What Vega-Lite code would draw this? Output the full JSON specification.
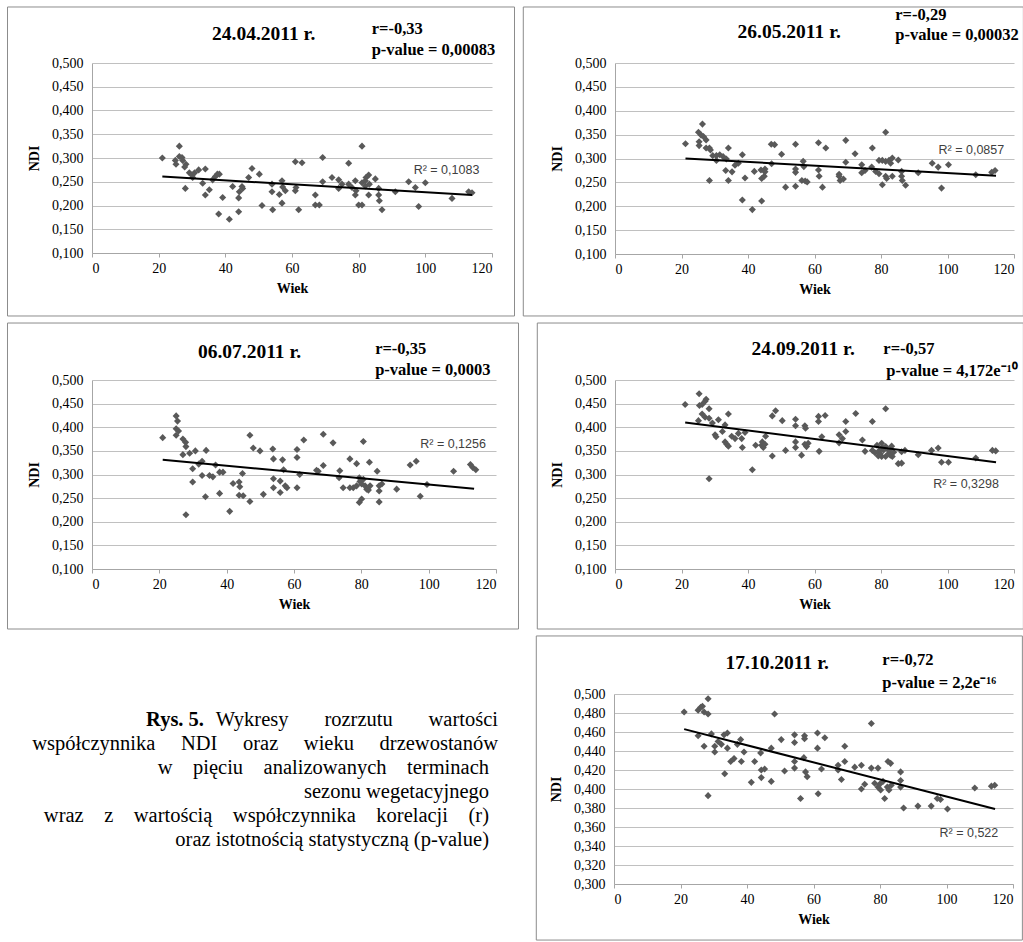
{
  "$schema": "https://vega.github.io/schema/vega-lite/v6.json",
  "padding": {"left": 6, "top": 6, "right": 0, "bottom": 0},
  "background": "white",
  "config": {
    "view": {"stroke": null},
    "axis": {"labelFont": "Liberation Serif", "labelFontSize": 14, "labelColor": "#000000", "titleFont": "Liberation Serif", "titleFontSize": 14, "titleFontWeight": "bold", "titleColor": "#000000", "domainColor": "#a6a6a6", "tickColor": "#a6a6a6", "gridColor": "#c0c0c0", "gridWidth": 1.2, "labelOverlap": false},
    "axisX": {"labelFont": "Liberation Serif", "titleFont": "Liberation Serif", "grid": false, "ticks": true, "tickSize": 4, "labelPadding": 4, "titlePadding": 6},
    "axisY": {"labelFont": "Liberation Serif", "titleFont": "Liberation Serif", "grid": true, "ticks": false, "labelPadding": 9, "titlePadding": 10, "tickCount": 20}
  },
  "datasets": {
    "d1": [
      {"wiek":21.1,"ndi":0.300},{"wiek":25,"ndi":0.295},{"wiek":25.2,"ndi":0.287},{"wiek":26.2,"ndi":0.325},{"wiek":26.2,"ndi":0.303},{"wiek":27,"ndi":0.301},{"wiek":27.2,"ndi":0.295},{"wiek":28.2,"ndi":0.287},{"wiek":27.8,"ndi":0.281},{"wiek":28,"ndi":0.236},{"wiek":29.2,"ndi":0.269},{"wiek":30,"ndi":0.264},{"wiek":30.2,"ndi":0.259},{"wiek":30.8,"ndi":0.269},{"wiek":32,"ndi":0.275},{"wiek":33.2,"ndi":0.247},{"wiek":34,"ndi":0.277},{"wiek":34,"ndi":0.222},{"wiek":35.2,"ndi":0.233},{"wiek":36.2,"ndi":0.254},{"wiek":37,"ndi":0.261},{"wiek":37.6,"ndi":0.266},{"wiek":38.2,"ndi":0.266},{"wiek":38,"ndi":0.182},{"wiek":39.2,"ndi":0.217},{"wiek":41.2,"ndi":0.171},{"wiek":42.2,"ndi":0.240},{"wiek":44,"ndi":0.216},{"wiek":44,"ndi":0.187},{"wiek":44.2,"ndi":0.229},{"wiek":45,"ndi":0.240},{"wiek":45.2,"ndi":0.236},{"wiek":47,"ndi":0.259},{"wiek":48,"ndi":0.278},{"wiek":50.2,"ndi":0.266},{"wiek":51,"ndi":0.200},{"wiek":54,"ndi":0.245},{"wiek":54,"ndi":0.229},{"wiek":54.2,"ndi":0.191},{"wiek":56.2,"ndi":0.223},{"wiek":57,"ndi":0.252},{"wiek":57,"ndi":0.205},{"wiek":57.2,"ndi":0.239},{"wiek":58,"ndi":0.231},{"wiek":61,"ndi":0.292},{"wiek":61,"ndi":0.231},{"wiek":61.2,"ndi":0.238},{"wiek":62,"ndi":0.191},{"wiek":63,"ndi":0.290},{"wiek":67,"ndi":0.222},{"wiek":67,"ndi":0.201},{"wiek":68.2,"ndi":0.201},{"wiek":69.2,"ndi":0.301},{"wiek":69.2,"ndi":0.250},{"wiek":72,"ndi":0.259},{"wiek":74,"ndi":0.254},{"wiek":74,"ndi":0.236},{"wiek":75,"ndi":0.245},{"wiek":77,"ndi":0.289},{"wiek":77,"ndi":0.245},{"wiek":78,"ndi":0.238},{"wiek":79,"ndi":0.252},{"wiek":79,"ndi":0.222},{"wiek":79.2,"ndi":0.231},{"wiek":80,"ndi":0.201},{"wiek":81,"ndi":0.325},{"wiek":81,"ndi":0.201},{"wiek":81,"ndi":0.248},{"wiek":82,"ndi":0.252},{"wiek":82,"ndi":0.241},{"wiek":82.2,"ndi":0.259},{"wiek":83,"ndi":0.264},{"wiek":83,"ndi":0.222},{"wiek":83.2,"ndi":0.245},{"wiek":85,"ndi":0.256},{"wiek":86,"ndi":0.236},{"wiek":86,"ndi":0.222},{"wiek":86.2,"ndi":0.210},{"wiek":87,"ndi":0.191},{"wiek":91,"ndi":0.229},{"wiek":95,"ndi":0.250},{"wiek":97,"ndi":0.238},{"wiek":98,"ndi":0.198},{"wiek":100,"ndi":0.248},{"wiek":108,"ndi":0.215},{"wiek":113,"ndi":0.229},{"wiek":114,"ndi":0.227}
    ],
    "d2": [
      {"wiek":21.2,"ndi":0.331},{"wiek":25.1,"ndi":0.355},{"wiek":25.3,"ndi":0.335},{"wiek":25.3,"ndi":0.327},{"wiek":26.3,"ndi":0.372},{"wiek":25.9,"ndi":0.349},{"wiek":26.6,"ndi":0.346},{"wiek":27.4,"ndi":0.339},{"wiek":27.4,"ndi":0.322},{"wiek":28.4,"ndi":0.322},{"wiek":28.4,"ndi":0.254},{"wiek":28.7,"ndi":0.318},{"wiek":29.4,"ndi":0.306},{"wiek":30.5,"ndi":0.306},{"wiek":30.5,"ndi":0.296},{"wiek":31.5,"ndi":0.308},{"wiek":32.5,"ndi":0.304},{"wiek":33.5,"ndi":0.299},{"wiek":33.3,"ndi":0.275},{"wiek":34.1,"ndi":0.322},{"wiek":34.1,"ndi":0.254},{"wiek":35.2,"ndi":0.272},{"wiek":36.1,"ndi":0.286},{"wiek":37.1,"ndi":0.290},{"wiek":38.3,"ndi":0.308},{"wiek":38.3,"ndi":0.213},{"wiek":39.1,"ndi":0.259},{"wiek":41.3,"ndi":0.193},{"wiek":41.9,"ndi":0.273},{"wiek":43.9,"ndi":0.276},{"wiek":44.1,"ndi":0.258},{"wiek":44.1,"ndi":0.211},{"wiek":44.9,"ndi":0.263},{"wiek":45.1,"ndi":0.278},{"wiek":45.1,"ndi":0.272},{"wiek":47,"ndi":0.330},{"wiek":48,"ndi":0.329},{"wiek":47.1,"ndi":0.289},{"wiek":50.1,"ndi":0.309},{"wiek":51.3,"ndi":0.240},{"wiek":54.3,"ndi":0.330},{"wiek":54.3,"ndi":0.278},{"wiek":54.3,"ndi":0.271},{"wiek":54.3,"ndi":0.242},{"wiek":56.6,"ndi":0.294},{"wiek":56.8,"ndi":0.283},{"wiek":56.2,"ndi":0.254},{"wiek":57.2,"ndi":0.253},{"wiek":57.8,"ndi":0.251},{"wiek":61.2,"ndi":0.333},{"wiek":61.2,"ndi":0.276},{"wiek":61.4,"ndi":0.263},{"wiek":62.4,"ndi":0.240},{"wiek":63.4,"ndi":0.322},{"wiek":67.4,"ndi":0.267},{"wiek":67.4,"ndi":0.263},{"wiek":67.7,"ndi":0.254},{"wiek":68.7,"ndi":0.257},{"wiek":69.4,"ndi":0.338},{"wiek":69.4,"ndi":0.292},{"wiek":72.2,"ndi":0.310},{"wiek":74.2,"ndi":0.287},{"wiek":74.2,"ndi":0.270},{"wiek":75.2,"ndi":0.275},{"wiek":77.4,"ndi":0.322},{"wiek":77.2,"ndi":0.282},{"wiek":78.4,"ndi":0.273},{"wiek":79.4,"ndi":0.296},{"wiek":79.4,"ndi":0.268},{"wiek":80.4,"ndi":0.296},{"wiek":80.4,"ndi":0.245},{"wiek":81.4,"ndi":0.355},{"wiek":81.4,"ndi":0.263},{"wiek":81.4,"ndi":0.294},{"wiek":81.7,"ndi":0.258},{"wiek":82.4,"ndi":0.296},{"wiek":82.9,"ndi":0.290},{"wiek":83.4,"ndi":0.301},{"wiek":83.4,"ndi":0.263},{"wiek":85.2,"ndi":0.297},{"wiek":86.2,"ndi":0.273},{"wiek":86.2,"ndi":0.263},{"wiek":86.4,"ndi":0.254},{"wiek":87.4,"ndi":0.244},{"wiek":91.2,"ndi":0.270},{"wiek":95.4,"ndi":0.290},{"wiek":97.2,"ndi":0.282},{"wiek":98.2,"ndi":0.238},{"wiek":100.3,"ndi":0.287},{"wiek":108.5,"ndi":0.266},{"wiek":113.3,"ndi":0.271},{"wiek":114.3,"ndi":0.275}
    ],
    "d3": [
      {"wiek":21.0,"ndi":0.378},{"wiek":25.0,"ndi":0.424},{"wiek":25.4,"ndi":0.413},{"wiek":25.0,"ndi":0.397},{"wiek":25.7,"ndi":0.392},{"wiek":25.0,"ndi":0.383},{"wiek":27.0,"ndi":0.375},{"wiek":27.8,"ndi":0.368},{"wiek":27.9,"ndi":0.359},{"wiek":27.0,"ndi":0.342},{"wiek":29.0,"ndi":0.345},{"wiek":27.9,"ndi":0.215},{"wiek":29.9,"ndi":0.312},{"wiek":30.7,"ndi":0.350},{"wiek":29.9,"ndi":0.284},{"wiek":31.7,"ndi":0.322},{"wiek":32.7,"ndi":0.328},{"wiek":33.9,"ndi":0.351},{"wiek":32.7,"ndi":0.298},{"wiek":33.7,"ndi":0.253},{"wiek":34.9,"ndi":0.298},{"wiek":35.9,"ndi":0.295},{"wiek":36.7,"ndi":0.320},{"wiek":37.9,"ndi":0.260},{"wiek":37.9,"ndi":0.305},{"wiek":38.9,"ndi":0.305},{"wiek":40.9,"ndi":0.222},{"wiek":41.9,"ndi":0.281},{"wiek":43.7,"ndi":0.284},{"wiek":43.9,"ndi":0.274},{"wiek":43.7,"ndi":0.256},{"wiek":44.7,"ndi":0.302},{"wiek":44.9,"ndi":0.255},{"wiek":46.9,"ndi":0.383},{"wiek":46.9,"ndi":0.243},{"wiek":47.9,"ndi":0.356},{"wiek":49.9,"ndi":0.350},{"wiek":50.9,"ndi":0.258},{"wiek":53.7,"ndi":0.354},{"wiek":53.9,"ndi":0.333},{"wiek":53.9,"ndi":0.291},{"wiek":53.9,"ndi":0.272},{"wiek":55.9,"ndi":0.262},{"wiek":55.9,"ndi":0.286},{"wiek":56.6,"ndi":0.331},{"wiek":56.9,"ndi":0.310},{"wiek":57.4,"ndi":0.276},{"wiek":57.9,"ndi":0.272},{"wiek":60.9,"ndi":0.272},{"wiek":60.9,"ndi":0.336},{"wiek":60.9,"ndi":0.353},{"wiek":61.7,"ndi":0.300},{"wiek":62.9,"ndi":0.373},{"wiek":68.7,"ndi":0.385},{"wiek":71.6,"ndi":0.367},{"wiek":80.6,"ndi":0.370},{"wiek":66.7,"ndi":0.309},{"wiek":67.2,"ndi":0.307},{"wiek":68.7,"ndi":0.319},{"wiek":73.6,"ndi":0.308},{"wiek":73.4,"ndi":0.293},{"wiek":74.6,"ndi":0.272},{"wiek":76.6,"ndi":0.333},{"wiek":76.6,"ndi":0.272},{"wiek":77.6,"ndi":0.272},{"wiek":78.6,"ndi":0.323},{"wiek":78.6,"ndi":0.276},{"wiek":79.4,"ndi":0.293},{"wiek":79.6,"ndi":0.285},{"wiek":80.1,"ndi":0.280},{"wiek":80.6,"ndi":0.290},{"wiek":81.1,"ndi":0.276},{"wiek":81.6,"ndi":0.269},{"wiek":82.1,"ndi":0.267},{"wiek":79.4,"ndi":0.241},{"wiek":80.1,"ndi":0.248},{"wiek":82.4,"ndi":0.326},{"wiek":82.6,"ndi":0.276},{"wiek":84.7,"ndi":0.307},{"wiek":85.3,"ndi":0.265},{"wiek":85.3,"ndi":0.242},{"wiek":85.3,"ndi":0.276},{"wiek":86.1,"ndi":0.280},{"wiek":90.5,"ndi":0.269},{"wiek":94.5,"ndi":0.320},{"wiek":96.3,"ndi":0.328},{"wiek":97.5,"ndi":0.254},{"wiek":99.5,"ndi":0.279},{"wiek":107.4,"ndi":0.307},{"wiek":112.4,"ndi":0.321},{"wiek":113.1,"ndi":0.315},{"wiek":114.0,"ndi":0.310}
    ],
    "d4": [
      {"wiek":21.1,"ndi":0.448},{"wiek":25.3,"ndi":0.471},{"wiek":25.4,"ndi":0.446},{"wiek":26.2,"ndi":0.448},{"wiek":27.1,"ndi":0.455},{"wiek":27.4,"ndi":0.459},{"wiek":26.2,"ndi":0.428},{"wiek":27.1,"ndi":0.421},{"wiek":25.1,"ndi":0.414},{"wiek":28.3,"ndi":0.439},{"wiek":28.3,"ndi":0.419},{"wiek":29.3,"ndi":0.409},{"wiek":28.3,"ndi":0.291},{"wiek":30.1,"ndi":0.384},{"wiek":30.4,"ndi":0.380},{"wiek":31.1,"ndi":0.416},{"wiek":32.3,"ndi":0.391},{"wiek":33.1,"ndi":0.405},{"wiek":33.1,"ndi":0.369},{"wiek":33.6,"ndi":0.364},{"wiek":34.1,"ndi":0.360},{"wiek":34.1,"ndi":0.428},{"wiek":35.1,"ndi":0.381},{"wiek":36.1,"ndi":0.376},{"wiek":37.1,"ndi":0.387},{"wiek":38.1,"ndi":0.376},{"wiek":38.3,"ndi":0.357},{"wiek":39.1,"ndi":0.389},{"wiek":41.3,"ndi":0.310},{"wiek":42.3,"ndi":0.362},{"wiek":44.1,"ndi":0.362},{"wiek":44.3,"ndi":0.369},{"wiek":44.6,"ndi":0.357},{"wiek":45.1,"ndi":0.364},{"wiek":45.3,"ndi":0.381},{"wiek":47.3,"ndi":0.339},{"wiek":47.3,"ndi":0.424},{"wiek":48.3,"ndi":0.435},{"wiek":50.3,"ndi":0.414},{"wiek":51.3,"ndi":0.351},{"wiek":54.3,"ndi":0.417},{"wiek":54.3,"ndi":0.403},{"wiek":54.3,"ndi":0.369},{"wiek":54.3,"ndi":0.357},{"wiek":56.1,"ndi":0.341},{"wiek":57.1,"ndi":0.403},{"wiek":57.3,"ndi":0.398},{"wiek":57.1,"ndi":0.364},{"wiek":57.6,"ndi":0.359},{"wiek":58.1,"ndi":0.366},{"wiek":61.2,"ndi":0.423},{"wiek":61.2,"ndi":0.412},{"wiek":61.4,"ndi":0.349},{"wiek":63.2,"ndi":0.425},{"wiek":62.2,"ndi":0.380},{"wiek":67.4,"ndi":0.384},{"wiek":67.4,"ndi":0.367},{"wiek":68.4,"ndi":0.376},{"wiek":69.4,"ndi":0.412},{"wiek":69.4,"ndi":0.391},{"wiek":72.4,"ndi":0.429},{"wiek":74.4,"ndi":0.373},{"wiek":75.2,"ndi":0.349},{"wiek":77.4,"ndi":0.412},{"wiek":77.4,"ndi":0.351},{"wiek":78.2,"ndi":0.346},{"wiek":79.2,"ndi":0.339},{"wiek":79.4,"ndi":0.350},{"wiek":80.2,"ndi":0.366},{"wiek":80.2,"ndi":0.338},{"wiek":81.4,"ndi":0.439},{"wiek":81.4,"ndi":0.359},{"wiek":81.4,"ndi":0.338},{"wiek":82.4,"ndi":0.345},{"wiek":82.4,"ndi":0.351},{"wiek":83.2,"ndi":0.360},{"wiek":83.4,"ndi":0.338},{"wiek":85.2,"ndi":0.323},{"wiek":86.2,"ndi":0.324},{"wiek":86.2,"ndi":0.348},{"wiek":87.2,"ndi":0.351},{"wiek":91.2,"ndi":0.342},{"wiek":95.2,"ndi":0.351},{"wiek":97.2,"ndi":0.356},{"wiek":98.2,"ndi":0.326},{"wiek":100.3,"ndi":0.326},{"wiek":108.5,"ndi":0.335},{"wiek":113.5,"ndi":0.351},{"wiek":114.5,"ndi":0.350},{"wiek":79.8,"ndi":0.344},{"wiek":80.8,"ndi":0.352},{"wiek":82.8,"ndi":0.341},{"wiek":83.8,"ndi":0.347},{"wiek":80.4,"ndi":0.357},{"wiek":78.8,"ndi":0.362}
    ],
    "d5": [
      {"wiek":21.1,"ndi":0.481},{"wiek":25.3,"ndi":0.483},{"wiek":26.1,"ndi":0.486},{"wiek":26.6,"ndi":0.487},{"wiek":25.3,"ndi":0.456},{"wiek":27.1,"ndi":0.481},{"wiek":28.3,"ndi":0.495},{"wiek":28.3,"ndi":0.479},{"wiek":27.1,"ndi":0.445},{"wiek":28.3,"ndi":0.393},{"wiek":29.3,"ndi":0.458},{"wiek":30.3,"ndi":0.445},{"wiek":30.3,"ndi":0.439},{"wiek":31.3,"ndi":0.450},{"wiek":32.3,"ndi":0.447},{"wiek":33.3,"ndi":0.416},{"wiek":33.1,"ndi":0.457},{"wiek":34.1,"ndi":0.459},{"wiek":34.1,"ndi":0.443},{"wiek":35.1,"ndi":0.429},{"wiek":36.1,"ndi":0.432},{"wiek":37.1,"ndi":0.447},{"wiek":38.1,"ndi":0.452},{"wiek":38.3,"ndi":0.429},{"wiek":39.1,"ndi":0.439},{"wiek":41.3,"ndi":0.407},{"wiek":42.3,"ndi":0.429},{"wiek":44.1,"ndi":0.438},{"wiek":44.3,"ndi":0.420},{"wiek":44.3,"ndi":0.412},{"wiek":45.3,"ndi":0.421},{"wiek":47.3,"ndi":0.443},{"wiek":47.3,"ndi":0.408},{"wiek":48.3,"ndi":0.479},{"wiek":50.3,"ndi":0.452},{"wiek":51.3,"ndi":0.419},{"wiek":54.3,"ndi":0.457},{"wiek":54.3,"ndi":0.449},{"wiek":54.3,"ndi":0.429},{"wiek":54.3,"ndi":0.422},{"wiek":56.1,"ndi":0.390},{"wiek":57.3,"ndi":0.456},{"wiek":57.3,"ndi":0.453},{"wiek":57.1,"ndi":0.433},{"wiek":57.6,"ndi":0.418},{"wiek":58.1,"ndi":0.413},{"wiek":61.2,"ndi":0.459},{"wiek":61.2,"ndi":0.443},{"wiek":61.4,"ndi":0.395},{"wiek":62.4,"ndi":0.421},{"wiek":63.4,"ndi":0.454},{"wiek":67.4,"ndi":0.425},{"wiek":67.4,"ndi":0.420},{"wiek":68.4,"ndi":0.410},{"wiek":69.4,"ndi":0.445},{"wiek":69.4,"ndi":0.429},{"wiek":72.4,"ndi":0.423},{"wiek":74.4,"ndi":0.425},{"wiek":74.4,"ndi":0.400},{"wiek":75.4,"ndi":0.405},{"wiek":77.4,"ndi":0.469},{"wiek":77.4,"ndi":0.422},{"wiek":78.4,"ndi":0.406},{"wiek":79.4,"ndi":0.422},{"wiek":79.4,"ndi":0.402},{"wiek":80.2,"ndi":0.399},{"wiek":79.9,"ndi":0.405},{"wiek":80.9,"ndi":0.408},{"wiek":81.4,"ndi":0.390},{"wiek":82.4,"ndi":0.429},{"wiek":83.2,"ndi":0.427},{"wiek":82.2,"ndi":0.402},{"wiek":82.7,"ndi":0.399},{"wiek":83.4,"ndi":0.404},{"wiek":86.2,"ndi":0.418},{"wiek":86.2,"ndi":0.409},{"wiek":86.2,"ndi":0.402},{"wiek":87.1,"ndi":0.380},{"wiek":91.4,"ndi":0.382},{"wiek":95.4,"ndi":0.382},{"wiek":97.2,"ndi":0.390},{"wiek":98.2,"ndi":0.389},{"wiek":100.3,"ndi":0.379},{"wiek":108.5,"ndi":0.401},{"wiek":113.5,"ndi":0.403},{"wiek":114.5,"ndi":0.404}
    ],
    "t1": [{"wiek":21.1,"ndi":0.261},{"wiek":114,"ndi":0.222}],
    "t2": [{"wiek":21.2,"ndi":0.300},{"wiek":114.6,"ndi":0.264}],
    "t3": [{"wiek":21,"ndi":0.331},{"wiek":113.5,"ndi":0.270}],
    "t4": [{"wiek":21.1,"ndi":0.410},{"wiek":114.6,"ndi":0.326}],
    "t5": [{"wiek":21.1,"ndi":0.463},{"wiek":114.6,"ndi":0.379}],
    "caption": [
      {"line":1,"kind":"label","text":"Rys. 5."},
      {"line":1,"kind":"body","text":"Wykresy \u00a0\u00a0\u00a0\u00a0\u00a0\u00a0rozrzutu \u00a0\u00a0\u00a0\u00a0\u00a0\u00a0wartości"},
      {"line":2,"kind":"body","text":"współczynnika \u00a0\u00a0\u00a0\u00a0NDI \u00a0\u00a0\u00a0\u00a0oraz \u00a0\u00a0\u00a0\u00a0wieku \u00a0\u00a0\u00a0\u00a0drzewostanów"},
      {"line":3,"kind":"body","text":"w \u00a0\u00a0\u00a0pięciu \u00a0\u00a0\u00a0analizowanych \u00a0\u00a0\u00a0terminach"},
      {"line":4,"kind":"body","text":"sezonu wegetacyjnego"},
      {"line":5,"kind":"body","text":"wraz \u00a0\u00a0\u00a0z \u00a0\u00a0\u00a0wartością \u00a0\u00a0\u00a0współczynnika \u00a0\u00a0\u00a0korelacji \u00a0\u00a0\u00a0(r)"},
      {"line":6,"kind":"body","text":"oraz istotnością statystyczną (p-value)"}
    ]
  },
  "spacing": 5,
  "vconcat": [
    {
      "spacing": 7,
      "hconcat": [
        {
          "width": 400, "height": 190,
          "layer": [
            {"data": {"values": [{}]}, "mark": {"type": "rect", "filled": false, "color": "#8c8c8c", "strokeWidth": 1},
             "encoding": {"x": {"datum": -25.35, "type": "quantitative", "scale": {"domain": [0, 120], "nice": false, "zero": false}}, "x2": {"datum": 126.75}, "y": {"datum": 0.6179, "type": "quantitative", "scale": {"domain": [0.1, 0.5], "nice": false, "zero": false}}, "y2": {"datum": -0.0326}}},
            {"data": {"name": "d1"}, "mark": {"type": "point", "filled": true, "shape": "diamond", "size": 50, "color": "#595959", "opacity": 1},
             "encoding": {"x": {"field": "wiek", "type": "quantitative", "scale": {"domain": [0, 120], "nice": false, "zero": false}, "axis": {"title": "Wiek", "values": [0, 20, 40, 60, 80, 100, 120], "tickCount": 20, "labelFont": "Liberation Serif", "titleFont": "Liberation Serif"}},
                          "y": {"field": "ndi", "type": "quantitative", "scale": {"domain": [0.1, 0.5], "nice": false, "zero": false}, "axis": {"title": "NDI", "values": [0.1, 0.15, 0.2, 0.25, 0.3, 0.35, 0.4, 0.45, 0.5], "tickCount": 20, "labelExpr": "replace(format(datum.value, '.3f'), '.', ',')", "labelFont": "Liberation Serif", "titleFont": "Liberation Serif"}}}},
            {"data": {"name": "t1"}, "mark": {"type": "line", "color": "#000000", "strokeWidth": 2}, "encoding": {"x": {"field": "wiek", "type": "quantitative"}, "y": {"field": "ndi", "type": "quantitative"}}},
            {"data": {"values": [{}]}, "mark": {"type": "text", "text": "24.04.2011 r.", "font": "Liberation Serif", "fontSize": 19.5, "fontWeight": "bold", "align": "center", "baseline": "middle", "color": "#000000"}, "encoding": {"x": {"datum": 51.5, "type": "quantitative"}, "y": {"datum": 0.561, "type": "quantitative"}}},
            {"data": {"values": [{}]}, "mark": {"type": "text", "text": "r=-0,33", "font": "Liberation Serif", "fontSize": 16.5, "fontWeight": "bold", "align": "left", "baseline": "middle", "color": "#000000"}, "encoding": {"x": {"datum": 83.9, "type": "quantitative"}, "y": {"datum": 0.5716, "type": "quantitative"}}},
            {"data": {"values": [{}]}, "mark": {"type": "text", "text": "p-value = 0,00083", "font": "Liberation Serif", "fontSize": 16.5, "fontWeight": "bold", "align": "left", "baseline": "middle", "color": "#000000"}, "encoding": {"x": {"datum": 83.9, "type": "quantitative"}, "y": {"datum": 0.5274, "type": "quantitative"}}},
            {"data": {"values": [{}]}, "mark": {"type": "text", "text": "R² = 0,1083", "font": "Liberation Sans", "fontSize": 12.5, "align": "left", "baseline": "middle", "color": "#404040"}, "encoding": {"x": {"datum": 96.5, "type": "quantitative"}, "y": {"datum": 0.2747, "type": "quantitative"}}}
          ]
        },
        {
          "width": 399, "height": 191,
          "layer": [
            {"data": {"values": [{}]}, "mark": {"type": "rect", "filled": false, "color": "#8c8c8c", "strokeWidth": 1},
             "encoding": {"x": {"datum": -27.58, "type": "quantitative", "scale": {"domain": [0, 120], "nice": false, "zero": false}}, "x2": {"datum": 122.82}, "y": {"datum": 0.6173, "type": "quantitative", "scale": {"domain": [0.1, 0.5], "nice": false, "zero": false}}, "y2": {"datum": -0.0298}}},
            {"data": {"name": "d2"}, "mark": {"type": "point", "filled": true, "shape": "diamond", "size": 50, "color": "#595959", "opacity": 1},
             "encoding": {"x": {"field": "wiek", "type": "quantitative", "scale": {"domain": [0, 120], "nice": false, "zero": false}, "axis": {"title": "Wiek", "values": [0, 20, 40, 60, 80, 100, 120], "tickCount": 20, "labelFont": "Liberation Serif", "titleFont": "Liberation Serif"}},
                          "y": {"field": "ndi", "type": "quantitative", "scale": {"domain": [0.1, 0.5], "nice": false, "zero": false}, "axis": {"title": "NDI", "values": [0.1, 0.15, 0.2, 0.25, 0.3, 0.35, 0.4, 0.45, 0.5], "tickCount": 20, "labelExpr": "replace(format(datum.value, '.3f'), '.', ',')", "labelFont": "Liberation Serif", "titleFont": "Liberation Serif"}}}},
            {"data": {"name": "t2"}, "mark": {"type": "line", "color": "#000000", "strokeWidth": 2}, "encoding": {"x": {"field": "wiek", "type": "quantitative"}, "y": {"field": "ndi", "type": "quantitative"}}},
            {"data": {"values": [{}]}, "mark": {"type": "text", "text": "26.05.2011 r.", "font": "Liberation Serif", "fontSize": 19.5, "fontWeight": "bold", "align": "center", "baseline": "middle", "color": "#000000"}, "encoding": {"x": {"datum": 52.4, "type": "quantitative"}, "y": {"datum": 0.565, "type": "quantitative"}}},
            {"data": {"values": [{}]}, "mark": {"type": "text", "text": "r=-0,29", "font": "Liberation Serif", "fontSize": 16.5, "fontWeight": "bold", "align": "left", "baseline": "middle", "color": "#000000"}, "encoding": {"x": {"datum": 84.3, "type": "quantitative"}, "y": {"datum": 0.6007, "type": "quantitative"}}},
            {"data": {"values": [{}]}, "mark": {"type": "text", "text": "p-value = 0,00032", "font": "Liberation Serif", "fontSize": 16.5, "fontWeight": "bold", "align": "left", "baseline": "middle", "color": "#000000"}, "encoding": {"x": {"datum": 84.3, "type": "quantitative"}, "y": {"datum": 0.5588, "type": "quantitative"}}},
            {"data": {"values": [{}]}, "mark": {"type": "text", "text": "R² = 0,0857", "font": "Liberation Sans", "fontSize": 12.5, "align": "left", "baseline": "middle", "color": "#404040"}, "encoding": {"x": {"datum": 97.3, "type": "quantitative"}, "y": {"datum": 0.3174, "type": "quantitative"}}}
          ]
        }
      ]
    },
    {
      "spacing": 17,
      "hconcat": [
        {
          "width": 404, "height": 189,
          "layer": [
            {"data": {"values": [{}]}, "mark": {"type": "rect", "filled": false, "color": "#8c8c8c", "strokeWidth": 1},
             "encoding": {"x": {"datum": -25.1, "type": "quantitative", "scale": {"domain": [0, 120], "nice": false, "zero": false}}, "x2": {"datum": 126.68}, "y": {"datum": 0.6206, "type": "quantitative", "scale": {"domain": [0.1, 0.5], "nice": false, "zero": false}}, "y2": {"datum": -0.027}}},
            {"data": {"name": "d3"}, "mark": {"type": "point", "filled": true, "shape": "diamond", "size": 50, "color": "#595959", "opacity": 1},
             "encoding": {"x": {"field": "wiek", "type": "quantitative", "scale": {"domain": [0, 120], "nice": false, "zero": false}, "axis": {"title": "Wiek", "values": [0, 20, 40, 60, 80, 100, 120], "tickCount": 20, "labelFont": "Liberation Serif", "titleFont": "Liberation Serif"}},
                          "y": {"field": "ndi", "type": "quantitative", "scale": {"domain": [0.1, 0.5], "nice": false, "zero": false}, "axis": {"title": "NDI", "values": [0.1, 0.15, 0.2, 0.25, 0.3, 0.35, 0.4, 0.45, 0.5], "tickCount": 20, "labelExpr": "replace(format(datum.value, '.3f'), '.', ',')", "labelFont": "Liberation Serif", "titleFont": "Liberation Serif"}}}},
            {"data": {"name": "t3"}, "mark": {"type": "line", "color": "#000000", "strokeWidth": 2}, "encoding": {"x": {"field": "wiek", "type": "quantitative"}, "y": {"field": "ndi", "type": "quantitative"}}},
            {"data": {"values": [{}]}, "mark": {"type": "text", "text": "06.07.2011 r.", "font": "Liberation Serif", "fontSize": 19.5, "fontWeight": "bold", "align": "center", "baseline": "middle", "color": "#000000"}, "encoding": {"x": {"datum": 46.8, "type": "quantitative"}, "y": {"datum": 0.5599, "type": "quantitative"}}},
            {"data": {"values": [{}]}, "mark": {"type": "text", "text": "r=-0,35", "font": "Liberation Serif", "fontSize": 16.5, "fontWeight": "bold", "align": "left", "baseline": "middle", "color": "#000000"}, "encoding": {"x": {"datum": 84.1, "type": "quantitative"}, "y": {"datum": 0.5662, "type": "quantitative"}}},
            {"data": {"values": [{}]}, "mark": {"type": "text", "text": "p-value = 0,0003", "font": "Liberation Serif", "fontSize": 16.5, "fontWeight": "bold", "align": "left", "baseline": "middle", "color": "#000000"}, "encoding": {"x": {"datum": 84.1, "type": "quantitative"}, "y": {"datum": 0.5218, "type": "quantitative"}}},
            {"data": {"values": [{}]}, "mark": {"type": "text", "text": "R² = 0,1256", "font": "Liberation Sans", "fontSize": 12.5, "align": "left", "baseline": "middle", "color": "#404040"}, "encoding": {"x": {"datum": 97.5, "type": "quantitative"}, "y": {"datum": 0.3652, "type": "quantitative"}}}
          ]
        },
        {
          "width": 399, "height": 189,
          "layer": [
            {"data": {"values": [{}]}, "mark": {"type": "rect", "filled": false, "color": "#8c8c8c", "strokeWidth": 1},
             "encoding": {"x": {"datum": -23.37, "type": "quantitative", "scale": {"domain": [0, 120], "nice": false, "zero": false}}, "x2": {"datum": 122.82}, "y": {"datum": 0.6206, "type": "quantitative", "scale": {"domain": [0.1, 0.5], "nice": false, "zero": false}}, "y2": {"datum": -0.027}}},
            {"data": {"name": "d4"}, "mark": {"type": "point", "filled": true, "shape": "diamond", "size": 50, "color": "#595959", "opacity": 1},
             "encoding": {"x": {"field": "wiek", "type": "quantitative", "scale": {"domain": [0, 120], "nice": false, "zero": false}, "axis": {"title": "Wiek", "values": [0, 20, 40, 60, 80, 100, 120], "tickCount": 20, "labelFont": "Liberation Serif", "titleFont": "Liberation Serif"}},
                          "y": {"field": "ndi", "type": "quantitative", "scale": {"domain": [0.1, 0.5], "nice": false, "zero": false}, "axis": {"title": "NDI", "values": [0.1, 0.15, 0.2, 0.25, 0.3, 0.35, 0.4, 0.45, 0.5], "tickCount": 20, "labelExpr": "replace(format(datum.value, '.3f'), '.', ',')", "labelFont": "Liberation Serif", "titleFont": "Liberation Serif"}}}},
            {"data": {"name": "t4"}, "mark": {"type": "line", "color": "#000000", "strokeWidth": 2}, "encoding": {"x": {"field": "wiek", "type": "quantitative"}, "y": {"field": "ndi", "type": "quantitative"}}},
            {"data": {"values": [{}]}, "mark": {"type": "text", "text": "24.09.2011 r.", "font": "Liberation Serif", "fontSize": 19.5, "fontWeight": "bold", "align": "center", "baseline": "middle", "color": "#000000"}, "encoding": {"x": {"datum": 56.6, "type": "quantitative"}, "y": {"datum": 0.5656, "type": "quantitative"}}},
            {"data": {"values": [{}]}, "mark": {"type": "text", "text": "r=-0,57", "font": "Liberation Serif", "fontSize": 16.5, "fontWeight": "bold", "align": "left", "baseline": "middle", "color": "#000000"}, "encoding": {"x": {"datum": 80.7, "type": "quantitative"}, "y": {"datum": 0.5656, "type": "quantitative"}}},
            {"data": {"values": [{}]}, "mark": {"type": "text", "text": "p-value = 4,172e⁻¹⁰", "font": "Liberation Serif", "fontSize": 16.5, "fontWeight": "bold", "align": "left", "baseline": "middle", "color": "#000000"}, "encoding": {"x": {"datum": 81.6, "type": "quantitative"}, "y": {"datum": 0.519, "type": "quantitative"}}},
            {"data": {"values": [{}]}, "mark": {"type": "text", "text": "R² = 0,3298", "font": "Liberation Sans", "fontSize": 12.5, "align": "left", "baseline": "middle", "color": "#404040"}, "encoding": {"x": {"datum": 95.7, "type": "quantitative"}, "y": {"datum": 0.2805, "type": "quantitative"}}}
          ]
        }
      ]
    },
    {
      "spacing": 37,
      "hconcat": [
        {
          "width": 406, "height": 160,
          "data": {"name": "caption"},
          "layer": [
            {"transform": [{"filter": "datum.kind == 'label'"}], "mark": {"type": "text", "font": "Liberation Serif", "fontSize": 20.5, "fontWeight": "bold", "align": "right", "baseline": "middle", "color": "#000000", "dx": -294},
             "encoding": {"x": {"datum": 1, "type": "quantitative", "scale": {"domain": [0, 1]}, "axis": null}, "y": {"field": "line", "type": "quantitative", "scale": {"domain": [-0.0833, 6.5833], "reverse": true}, "axis": null}, "text": {"field": "text"}}},
            {"transform": [{"filter": "datum.kind == 'body' && datum.line <= 2"}], "mark": {"type": "text", "font": "Liberation Serif", "fontSize": 20.5, "align": "right", "baseline": "middle", "color": "#000000"},
             "encoding": {"x": {"datum": 1, "type": "quantitative", "scale": {"domain": [0, 1]}, "axis": null}, "y": {"field": "line", "type": "quantitative", "scale": {"domain": [-0.0833, 6.5833], "reverse": true}, "axis": null}, "text": {"field": "text"}}},
            {"transform": [{"filter": "datum.kind == 'body' && datum.line > 2"}], "mark": {"type": "text", "font": "Liberation Serif", "fontSize": 20.5, "align": "right", "baseline": "middle", "color": "#000000", "dx": -9},
             "encoding": {"x": {"datum": 1, "type": "quantitative", "scale": {"domain": [0, 1]}, "axis": null}, "y": {"field": "line", "type": "quantitative", "scale": {"domain": [-0.0833, 6.5833], "reverse": true}, "axis": null}, "text": {"field": "text"}}}
          ]
        },
        {
          "width": 399, "height": 190,
          "layer": [
            {"data": {"values": [{}]}, "mark": {"type": "rect", "filled": false, "color": "#8c8c8c", "strokeWidth": 1},
             "encoding": {"x": {"datum": -23.37, "type": "quantitative", "scale": {"domain": [0, 120], "nice": false, "zero": false}}, "x2": {"datum": 122.82}, "y": {"datum": 0.5611, "type": "quantitative", "scale": {"domain": [0.3, 0.5], "nice": false, "zero": false}}, "y2": {"datum": 0.241}}},
            {"data": {"name": "d5"}, "mark": {"type": "point", "filled": true, "shape": "diamond", "size": 50, "color": "#595959", "opacity": 1},
             "encoding": {"x": {"field": "wiek", "type": "quantitative", "scale": {"domain": [0, 120], "nice": false, "zero": false}, "axis": {"title": "Wiek", "values": [0, 20, 40, 60, 80, 100, 120], "tickCount": 20, "labelFont": "Liberation Serif", "titleFont": "Liberation Serif"}},
                          "y": {"field": "ndi", "type": "quantitative", "scale": {"domain": [0.3, 0.5], "nice": false, "zero": false}, "axis": {"title": "NDI", "values": [0.3, 0.32, 0.34, 0.36, 0.38, 0.4, 0.42, 0.44, 0.46, 0.48, 0.5], "tickCount": 20, "labelExpr": "replace(format(datum.value, '.3f'), '.', ',')", "labelFont": "Liberation Serif", "titleFont": "Liberation Serif", "labelOverlap": false}}}},
            {"data": {"name": "t5"}, "mark": {"type": "line", "color": "#000000", "strokeWidth": 2}, "encoding": {"x": {"field": "wiek", "type": "quantitative"}, "y": {"field": "ndi", "type": "quantitative"}}},
            {"data": {"values": [{}]}, "mark": {"type": "text", "text": "17.10.2011 r.", "font": "Liberation Serif", "fontSize": 19.5, "fontWeight": "bold", "align": "center", "baseline": "middle", "color": "#000000"}, "encoding": {"x": {"datum": 49.1, "type": "quantitative"}, "y": {"datum": 0.5326, "type": "quantitative"}}},
            {"data": {"values": [{}]}, "mark": {"type": "text", "text": "r=-0,72", "font": "Liberation Serif", "fontSize": 16.5, "fontWeight": "bold", "align": "left", "baseline": "middle", "color": "#000000"}, "encoding": {"x": {"datum": 80.7, "type": "quantitative"}, "y": {"datum": 0.5358, "type": "quantitative"}}},
            {"data": {"values": [{}]}, "mark": {"type": "text", "text": "p-value = 2,2e⁻¹⁶", "font": "Liberation Serif", "fontSize": 16.5, "fontWeight": "bold", "align": "left", "baseline": "middle", "color": "#000000"}, "encoding": {"x": {"datum": 80.7, "type": "quantitative"}, "y": {"datum": 0.5116, "type": "quantitative"}}},
            {"data": {"values": [{}]}, "mark": {"type": "text", "text": "R² = 0,522", "font": "Liberation Sans", "fontSize": 12.5, "align": "left", "baseline": "middle", "color": "#404040"}, "encoding": {"x": {"datum": 97.9, "type": "quantitative"}, "y": {"datum": 0.354, "type": "quantitative"}}}
          ]
        }
      ]
    }
  ]
}
